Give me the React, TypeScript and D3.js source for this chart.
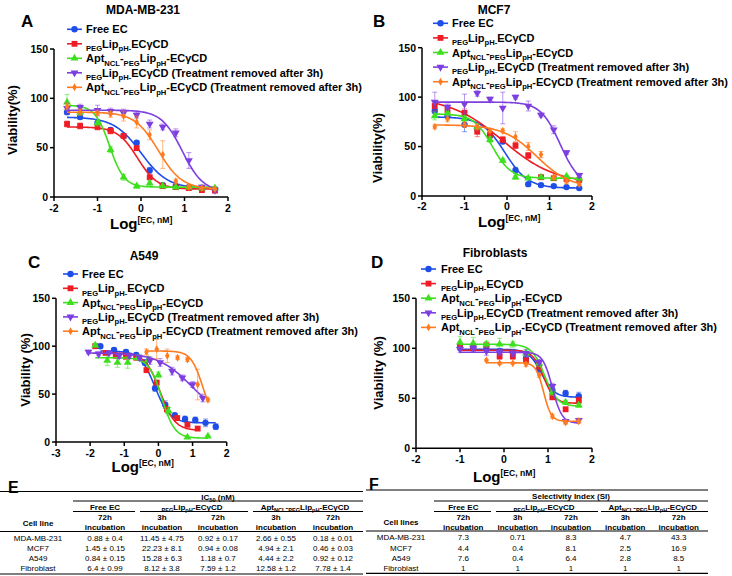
import React from "react";
import * as d3 from "d3";

const FONT = "'Liberation Sans', Arial, Helvetica, sans-serif";
const COLORS = ["#1f4de8", "#ee1c24", "#3ddf1f", "#7d3fe0", "#ff7b1f"];
const MARKERS = ["circle", "square", "triangle", "triangleDown", "diamond"];

// ---------- Panel A : MDA-MB-231 ----------
const A_X = [-1.7, -1.4, -1.0, -0.7, -0.4, -0.1, 0.2, 0.5, 0.8, 1.1, 1.4, 1.7];
const A_FREE = [86, 81, 75, 68, 62, 55, 27, 12, 11, 10, 9, 8];
const A_FREE_E = [2, 2, 3, 2, 2, 1, 3, 1, 1, 1, 1, 1];
const A_PEG = [74, 72, 71, 67, 62, 49.5, 20, 11, 10, 9, 7, 6.5];
const A_PEG_E = [3, 3, 3, 3, 2, 2, 2, 1, 1, 1, 1, 1];
const A_APT = [96, 86, 75, 48, 20, 11, 14, 11, 10, 10, 9, 9];
const A_APT_E = [8, 3, 3, 3, 3, 2, 3, 1, 1, 1, 1, 1];
const A_PEGR = [90, 91, 88, 87, 85, 83, 74, 71, 65, 37, 10, 7];
const A_PEGR_E = [5, 3, 5, 3, 4, 3, 4, 3, 4, 8, 2, 2];
const A_APTR = [92, 86, 85, 84, 82, 76, 63, 43, 16, 10, 9, 8];
const A_APTR_E = [3, 3, 3, 3, 5, 6, 5, 14, 2, 1, 1, 1];
const A_TOP = [81, 71, 93, 88, 86];
const A_BOTTOM = [8.5, 8, 10, 5, 8];
const A_LOGIC50 = [0.0, -0.08, -0.72, 0.95, 0.4];
const A_HILL = [1.4, 1.9, 2.6, 1.8, 1.6];

// ---------- Panel B : MCF7 ----------
const B_X = [-1.7, -1.4, -1.0, -0.7, -0.4, -0.1, 0.2, 0.5, 0.8, 1.1, 1.4, 1.7];
const B_FREE = [86, 81, 72, 68, 61, 55, 26, 12, 11, 10, 9, 8];
const B_FREE_E = [2, 2, 7, 2, 2, 2, 3, 1, 1, 1, 1, 1];
const B_PEG = [91, 87, 84, 65, 62, 57, 51, 41, 19, 18, 17, 16];
const B_PEG_E = [5, 3, 4, 5, 3, 3, 3, 3, 2, 1, 2, 2];
const B_APT = [81, 84, 78, 70, 57, 36, 19, 18, 19, 18, 20, 18];
const B_APT_E = [4, 3, 3, 3, 3, 2, 2, 1, 1, 1, 1, 2];
const B_PEGR = [95, 90, 93, 104, 98, 89, 100, 91, 82, 67, 44, 21];
const B_PEGR_E = [10, 3, 10, 3, 2, 16, 2, 5, 2, 4, 2, 2];
const B_APTR = [70, 78, 72, 70, 66, 66, 60, 50, 42, 19, 15, 12];
const B_APTR_E = [2, 3, 2, 3, 2, 2, 5, 4, 3, 2, 2, 2];
const B_TOP = [80, 100, 83, 95, 72];
const B_BOTTOM = [8, 12, 18, 10, 8];
const B_LOGIC50 = [-0.05, -0.1, -0.35, 1.25, 0.7];
const B_HILL = [1.6, 0.7, 2.0, 1.9, 1.1];

// ---------- Panel C : A549 ----------
const C_X_FREE = [-1.7, -1.3, -0.95, -0.65, -0.4, -0.1, 0.2, 0.48, 0.78, 1.08, 1.38, 1.68];
const C_FREE = [100, 96, 94, 91, 83, 56, 39, 28, 24, 23, 20, 16];
const C_FREE_E = [2, 2, 2, 2, 3, 3, 4, 2, 3, 3, 4, 3];
const C_X_PEG = [-1.85, -1.55, -1.25, -0.95, -0.65, -0.35, -0.05, 0.25, 0.55, 0.85, 1.15];
const C_PEG = [100, 93, 90, 89, 88, 75, 62, 34, 25, 18, 14];
const C_PEG_E = [2, 2, 2, 2, 2, 2, 2, 2, 2, 2, 2];
const C_X_APT = [-1.85, -1.5, -1.2, -0.9, -0.6, -0.3, 0.0, 0.3, 0.85, 1.45];
const C_APT = [101, 85, 83, 83, 88, 86, 70, 32, 5, 6];
const C_APT_E = [2, 5, 5, 6, 3, 3, 3, 4, 1, 1];
const C_X_PEGR = [-2.05, -1.75, -1.45, -1.15, -0.85, -0.55, -0.25, 0.05, 0.4, 0.7, 1.0, 1.3];
const C_PEGR = [94, 92, 93, 90, 90, 88, 85, 83, 74, 67, 60, 46];
const C_PEGR_E = [2, 2, 2, 3, 3, 3, 4, 4, 4, 3, 3, 4];
const C_X_APTR = [-0.35, -0.05, 0.26, 0.56, 0.85, 1.15, 1.45];
const C_APTR = [94, 97, 90, 88, 86, 60, 44];
const C_APTR_E = [3, 10, 7, 2, 2, 16, 2];
const C_TOP = [95, 93, 88, 93, 95];
const C_BOTTOM = [20, 12, 4, 25, 20];
const C_LOGIC50 = [-0.1, 0.05, 0.1, 0.95, 1.3];
const C_HILL = [2.0, 2.0, 2.3, 0.9, 2.5];

// ---------- Panel D : Fibroblasts ----------
const D_X = [-1.0, -0.7, -0.4, -0.1, 0.2, 0.5, 0.8, 1.1, 1.4, 1.7];
const D_FREE = [101, 101, 99, 97, 96, 90, 79, 58, 55, 52];
const D_FREE_E = [3, 3, 3, 3, 3, 3, 3, 3, 3, 4];
const D_PEG = [102, 100, 103, 92, 92, 88, 82, 51, 39, 48];
const D_PEG_E = [2, 2, 2, 3, 3, 3, 3, 2, 2, 3];
const D_APT = [106, 105, 104, 104, 104, 95, 85, 56, 46, 43];
const D_APT_E = [6, 6, 3, 6, 3, 3, 3, 3, 2, 2];
const D_PEGR = [99, 100, 97, 96, 95, 95, 86, 62, 27, 28];
const D_PEGR_E = [3, 3, 4, 3, 3, 4, 3, 3, 2, 2];
const D_X_APTR = [-0.4, -0.1, 0.2, 0.5, 0.8, 1.1, 1.4, 1.7];
const D_APTR = [88, 85, 85, 84, 73, 32, 26, 27];
const D_APTR_E = [1, 1, 1, 2, 2, 2, 2, 2];
const D_TOP = [99, 98, 104, 96, 85.5];
const D_BOTTOM = [51, 45, 42, 25, 27];
const D_LOGIC50 = [0.85, 0.9, 0.92, 1.1, 0.9];
const D_HILL = [3, 3.5, 3, 4, 5];

const Y_TICKS = [0, 50, 100, 150];

// ---------- Tables ----------
const CELL_LINES = ["MDA-MB-231", "MCF7", "A549", "Fibroblast"];
const E_FREE72 = ["0.88 ± 0.4", "1.45 ± 0.15", "0.84 ± 0.15", "6.4 ± 0.99"];
const E_PEG3 = ["11.45 ± 4.75", "22.23 ± 8.1", "15.28 ± 6.3", "8.12 ± 3.8"];
const E_PEG72 = ["0.92 ± 0.17", "0.94 ± 0.08", "1.18 ± 0.7", "7.59 ± 1.2"];
const E_APT3 = ["2.66 ± 0.55", "4.94 ± 2.1", "4.44 ± 2.2", "12.58 ± 1.2"];
const E_APT72 = ["0.18 ± 0.01", "0.46 ± 0.03", "0.92 ± 0.12", "7.78 ± 1.4"];
const F_FREE72 = ["7.3", "4.4", "7.6", "1"];
const F_PEG3 = ["0.71", "0.4", "0.4", "1"];
const F_PEG72 = ["8.3", "8.1", "6.4", "1"];
const F_APT3 = ["4.7", "2.5", "2.8", "1"];
const F_APT72 = ["43.3", "16.9", "8.5", "1"];

type Seg = [string, "n" | "s"];
const L_FREE: Seg[] = [["Free EC", "n"]];
const L_PEG: Seg[] = [["PEG", "s"], ["Lip", "n"], ["pH-", "s"], ["ECγCD", "n"]];
const L_APT: Seg[] = [["Apt", "n"], ["NCL", "s"], ["-", "n"], ["PEG", "s"], ["Lip", "n"], ["pH", "s"], ["-ECγCD", "n"]];
const L_REM: Seg = [" (Treatment removed after 3h)", "n"];
const LEGEND: Seg[][] = [L_FREE, L_PEG, L_APT, [...L_PEG, L_REM], [...L_APT, L_REM]];
const T_PEG: Seg[] = [["PEG", "s"], ["Lip", "n"], ["pH", "s"], ["-ECγCD", "n"]];
const T_APT: Seg[] = [["Apt", "n"], ["NCL", "s"], ["-", "n"], ["PEG", "s"], ["Lip", "n"], ["pH", "s"], ["-ECγCD", "n"]];

function Rich({ x, y, segs, size, sub, anchor = "start", weight = "bold", shift }: any) {
  let cur = 0;
  const sh = shift ?? size * 0.3;
  return (
    <text x={x} y={y} textAnchor={anchor} fontWeight={weight} fontSize={size} style={{ whiteSpace: "pre" }}>
      {segs.map(([t, k]: Seg, i: number) => {
        const target = k === "s" ? sh : 0;
        const dy = target - cur;
        cur = target;
        return (
          <tspan key={i} dy={dy} fontSize={k === "s" ? sub : size}>
            {t}
          </tspan>
        );
      })}
    </text>
  );
}

function Marker({ kind, x, y, color }: any) {
  const types: any = {
    circle: [d3.symbolCircle, 32, 0],
    square: [d3.symbolSquare, 34, 0],
    triangle: [d3.symbolTriangle, 27, 0],
    triangleDown: [d3.symbolTriangle, 27, 180],
    diamond: [d3.symbolDiamond, 18, 0],
  };
  const [t, s, r] = types[kind];
  const p = d3.symbol().type(t).size(s)() as string;
  return <path d={p} fill={color} transform={`translate(${x},${y}) rotate(${r})`} />;
}

function logistic(x: number, top: number, bottom: number, ic: number, hill: number) {
  return bottom + (top - bottom) / (1 + Math.pow(10, (x - ic) * hill));
}

function Panel({ cfg }: any) {
  const xs = d3.scaleLinear().domain(cfg.xDomain).range(cfg.xRange);
  const ys = d3.scaleLinear().domain([0, 150]).range(cfg.yRange);
  const x0 = cfg.xRange[0];
  const y0 = cfg.yRange[0];
  const xTicks = d3.range(cfg.xDomain[0], cfg.xDomain[1] + 1);
  const line = d3
    .line<[number, number]>()
    .x((d) => xs(d[0]))
    .y((d) => ys(d[1]));
  return (
    <g fontFamily={FONT}>
      <text x={cfg.letter[1]} y={cfg.letter[2]} fontSize={17} fontWeight="bold">
        {cfg.letter[0]}
      </text>
      <text x={cfg.title[1]} y={cfg.title[2]} fontSize={12} fontWeight="bold" textAnchor="middle">
        {cfg.title[0]}
      </text>
      {/* series */}
      {cfg.series.map((s: any, si: number) => {
        const lo = s.x[0];
        const hi = s.x[s.x.length - 1];
        const pts: [number, number][] = d3.range(0, 121).map((i) => {
          const xv = lo + ((hi - lo) * i) / 120;
          return [xv, logistic(xv, cfg.top[si], cfg.bottom[si], cfg.ic[si], cfg.hill[si])];
        });
        const col = COLORS[si];
        return (
          <g key={si}>
            <path d={line(pts) as string} fill="none" stroke={col} strokeWidth={1.6} />
            {s.x.map((xv: number, i: number) => {
              const cx = xs(xv);
              const ya = ys(s.y[i] + s.e[i]);
              const yb = ys(s.y[i] - s.e[i]);
              return (
                <g key={i} stroke={col} strokeOpacity={0.55} strokeWidth={1}>
                  <line x1={cx} x2={cx} y1={ya} y2={yb} />
                  <line x1={cx - 2.5} x2={cx + 2.5} y1={ya} y2={ya} />
                  <line x1={cx - 2.5} x2={cx + 2.5} y1={yb} y2={yb} />
                </g>
              );
            })}
            {s.x.map((xv: number, i: number) => (
              <Marker key={"m" + i} kind={MARKERS[si]} x={xs(xv)} y={ys(s.y[i])} color={col} />
            ))}
          </g>
        );
      })}
      {/* axes */}
      <g stroke="#000" strokeWidth={1.5}>
        <line x1={x0} x2={x0} y1={y0 + 0.75} y2={ys(150)} />
        <line x1={x0} x2={cfg.xRange[1]} y1={y0} y2={y0} />
        {Y_TICKS.map((t) => (
          <line key={"yt" + t} x1={x0 - 4} x2={x0} y1={ys(t)} y2={ys(t)} />
        ))}
        {xTicks.map((t: number) => (
          <line key={"xt" + t} x1={xs(t)} x2={xs(t)} y1={y0} y2={y0 + 4} />
        ))}
      </g>
      {Y_TICKS.map((t) => (
        <text key={"yl" + t} x={x0 - 6} y={ys(t) + 3.8} fontSize={10.5} fontWeight="bold" textAnchor="end">
          {t}
        </text>
      ))}
      {xTicks.map((t: number) => (
        <text key={"xl" + t} x={xs(t)} y={cfg.xTickY} fontSize={10.5} fontWeight="bold" textAnchor="middle">
          {t}
        </text>
      ))}
      <text
        transform={`translate(${cfg.yLabel[1]},${cfg.yLabel[2]}) rotate(-90)`}
        fontSize={13}
        fontWeight="bold"
        textAnchor="middle"
      >
        {cfg.yLabel[0]}
      </text>
      <text x={cfg.xLabel[0]} y={cfg.xLabel[1]} fontSize={15} fontWeight="bold">
        Log
        <tspan fontSize={8.6} dy={-6}>
          [EC, nM]
        </tspan>
      </text>
      {/* legend */}
      {LEGEND.map((segs, i) => {
        const ly = cfg.legend[2] + i * cfg.legend[3];
        return (
          <g key={"lg" + i}>
            <line x1={cfg.legend[0]} x2={cfg.legend[0] + 15} y1={ly} y2={ly} stroke={COLORS[i]} strokeWidth={1.6} />
            <Marker kind={MARKERS[i]} x={cfg.legend[0] + 7.5} y={ly} color={COLORS[i]} />
            <Rich x={cfg.legend[1]} y={ly + 4} segs={segs} size={11} sub={7.6} />
          </g>
        );
      })}
    </g>
  );
}

const PANELS = [
  {
    letter: ["A", 21, 27],
    title: ["MDA-MB-231", 143, 14],
    xDomain: [-2, 2],
    xRange: [54, 228],
    yRange: [197, 49],
    xTickY: 211.5,
    yLabel: ["Viability(%)", 16.5, 120],
    xLabel: [110, 229],
    legend: [67, 86, 29.3, 14.5],
    series: [
      { x: A_X, y: A_FREE, e: A_FREE_E },
      { x: A_X, y: A_PEG, e: A_PEG_E },
      { x: A_X, y: A_APT, e: A_APT_E },
      { x: A_X, y: A_PEGR, e: A_PEGR_E },
      { x: A_X, y: A_APTR, e: A_APTR_E },
    ],
    top: A_TOP,
    bottom: A_BOTTOM,
    ic: A_LOGIC50,
    hill: A_HILL,
  },
  {
    letter: ["B", 373, 27],
    title: ["MCF7", 494, 14],
    xDomain: [-2, 2],
    xRange: [422, 592],
    yRange: [196, 47.7],
    xTickY: 210,
    yLabel: ["Viability(%)", 382, 148],
    xLabel: [478, 227],
    legend: [433, 452, 23.3, 14.6],
    series: [
      { x: B_X, y: B_FREE, e: B_FREE_E },
      { x: B_X, y: B_PEG, e: B_PEG_E },
      { x: B_X, y: B_APT, e: B_APT_E },
      { x: B_X, y: B_PEGR, e: B_PEGR_E },
      { x: B_X, y: B_APTR, e: B_APTR_E },
    ],
    top: B_TOP,
    bottom: B_BOTTOM,
    ic: B_LOGIC50,
    hill: B_HILL,
  },
  {
    letter: ["C", 28, 268],
    title: ["A549", 144, 260],
    xDomain: [-3, 2],
    xRange: [56, 226.7],
    yRange: [442, 298.3],
    xTickY: 456.5,
    yLabel: ["Viability (%)", 30, 370],
    xLabel: [111.5, 472],
    legend: [63, 82, 274, 14.3],
    series: [
      { x: C_X_FREE, y: C_FREE, e: C_FREE_E },
      { x: C_X_PEG, y: C_PEG, e: C_PEG_E },
      { x: C_X_APT, y: C_APT, e: C_APT_E },
      { x: C_X_PEGR, y: C_PEGR, e: C_PEGR_E },
      { x: C_X_APTR, y: C_APTR, e: C_APTR_E },
    ],
    top: C_TOP,
    bottom: C_BOTTOM,
    ic: C_LOGIC50,
    hill: C_HILL,
  },
  {
    letter: ["D", 371, 268],
    title: ["Fibroblasts", 495, 256.5],
    xDomain: [-2, 2],
    xRange: [416, 592],
    yRange: [448.3, 298.3],
    xTickY: 463,
    yLabel: ["Viability (%)", 383, 373],
    xLabel: [473, 481.5],
    legend: [421, 441, 269, 14.6],
    series: [
      { x: D_X, y: D_FREE, e: D_FREE_E },
      { x: D_X, y: D_PEG, e: D_PEG_E },
      { x: D_X, y: D_APT, e: D_APT_E },
      { x: D_X, y: D_PEGR, e: D_PEGR_E },
      { x: D_X_APTR, y: D_APTR, e: D_APTR_E },
    ],
    top: D_TOP,
    bottom: D_BOTTOM,
    ic: D_LOGIC50,
    hill: D_HILL,
  },
];

function Table({ t }: any) {
  const fs = 8;
  const sub = 5.6;
  return (
    <g fontFamily={FONT} fontSize={fs}>
      <text x={t.letter[1]} y={t.letter[2]} fontSize={16} fontWeight="bold">
        {t.letter[0]}
      </text>
      <g stroke="#000">
        <line x1={t.x0} x2={t.x1} y1={t.lines[0]} y2={t.lines[0]} strokeWidth={1.2} />
        <line x1={t.groupSpans[0][0]} x2={t.x1} y1={t.lines[1]} y2={t.lines[1]} strokeWidth={1} />
        {t.groupSpans.map((g: number[], i: number) => (
          <line key={i} x1={g[0]} x2={g[1]} y1={t.lines[2]} y2={t.lines[2]} strokeWidth={1} />
        ))}
        <line x1={t.x0} x2={t.x1} y1={t.lines[3]} y2={t.lines[3]} strokeWidth={1} />
        <line x1={t.x0} x2={t.x1} y1={t.lines[4]} y2={t.lines[4]} strokeWidth={1.2} />
      </g>
      {t.header}
      <Rich x={t.groupCenters[0]} y={t.rowY[0]} segs={[["Free EC", "n"]]} size={fs} sub={sub} anchor="middle" />
      <Rich x={t.groupCenters[1]} y={t.rowY[0]} segs={T_PEG} size={fs} sub={sub} anchor="middle" />
      <Rich x={t.groupCenters[2]} y={t.rowY[0]} segs={T_APT} size={fs} sub={sub} anchor="middle" />
      {t.colHeads.map((h: string, i: number) => (
        <g key={"ch" + i} fontWeight="bold" textAnchor="middle">
          <text x={t.cols[i]} y={t.rowY[1]}>
            {h}
          </text>
          <text x={t.cols[i]} y={t.rowY[2]}>
            incubation
          </text>
        </g>
      ))}
      <text x={t.cellX} y={t.cellHeadY} fontWeight="bold" textAnchor="middle">
        {t.cellHead}
      </text>
      {CELL_LINES.map((c, r) => (
        <g key={"r" + r} textAnchor="middle">
          <text x={t.cellX} y={t.dataY[r]}>
            {c}
          </text>
          {t.data.map((col: string[], ci: number) => (
            <text key={ci} x={t.cols[ci]} y={t.dataY[r]}>
              {col[r]}
            </text>
          ))}
        </g>
      ))}
    </g>
  );
}

const TABLES = [
  {
    letter: ["E", 8, 493],
    x0: 0,
    x1: 363,
    lines: [491.5, 501, 511.5, 531.5, 574],
    groupSpans: [
      [73, 135],
      [140, 248],
      [253, 363],
    ],
    groupCenters: [105, 192, 305],
    header: (
      <text x={218} y={499.5} fontWeight="bold" textAnchor="middle" fontSize={8}>
        IC
        <tspan fontSize={5.6} dy={2}>
          50
        </tspan>
        <tspan dy={-2}> (nM)</tspan>
      </text>
    ),
    rowY: [509.8, 520.3, 530],
    cols: [105, 162, 218, 276, 333],
    colHeads: ["72h", "3h", "72h", "3h", "72h"],
    cellX: 38,
    cellHead: "Cell line",
    cellHeadY: 525.5,
    dataY: [540.7, 551.3, 561.3, 571.3],
    data: [E_FREE72, E_PEG3, E_PEG72, E_APT3, E_APT72],
  },
  {
    letter: ["F", 369, 490],
    x0: 366,
    x1: 708,
    lines: [490, 501, 511.5, 531, 573.3],
    groupSpans: [
      [434, 491],
      [496, 598],
      [601, 708],
    ],
    groupCenters: [463.3, 544, 652.7],
    header: (
      <text x={571} y={499} fontWeight="bold" textAnchor="middle" fontSize={8}>
        Selectivity Index (SI)
      </text>
    ),
    rowY: [509.5, 520, 530],
    cols: [463.3, 517.7, 571, 625.3, 678.7],
    colHeads: ["72h", "3h", "72h", "3h", "72h"],
    cellX: 401,
    cellHead: "Cell lines",
    cellHeadY: 525,
    dataY: [540, 550.7, 560.7, 570.7],
    data: [F_FREE72, F_PEG3, F_PEG72, F_APT3, F_APT72],
  },
];

export default function App() {
  return (
    <svg
      width={732}
      height={576}
      viewBox="0 0 732 576"
      style={{ position: "absolute", left: 0, top: 0, background: "#fff" }}
    >
      <rect x={0} y={0} width={732} height={576} fill="#fff" />
      {PANELS.map((p, i) => (
        <Panel key={i} cfg={p} />
      ))}
      {TABLES.map((t, i) => (
        <Table key={i} t={t} />
      ))}
    </svg>
  );
}
